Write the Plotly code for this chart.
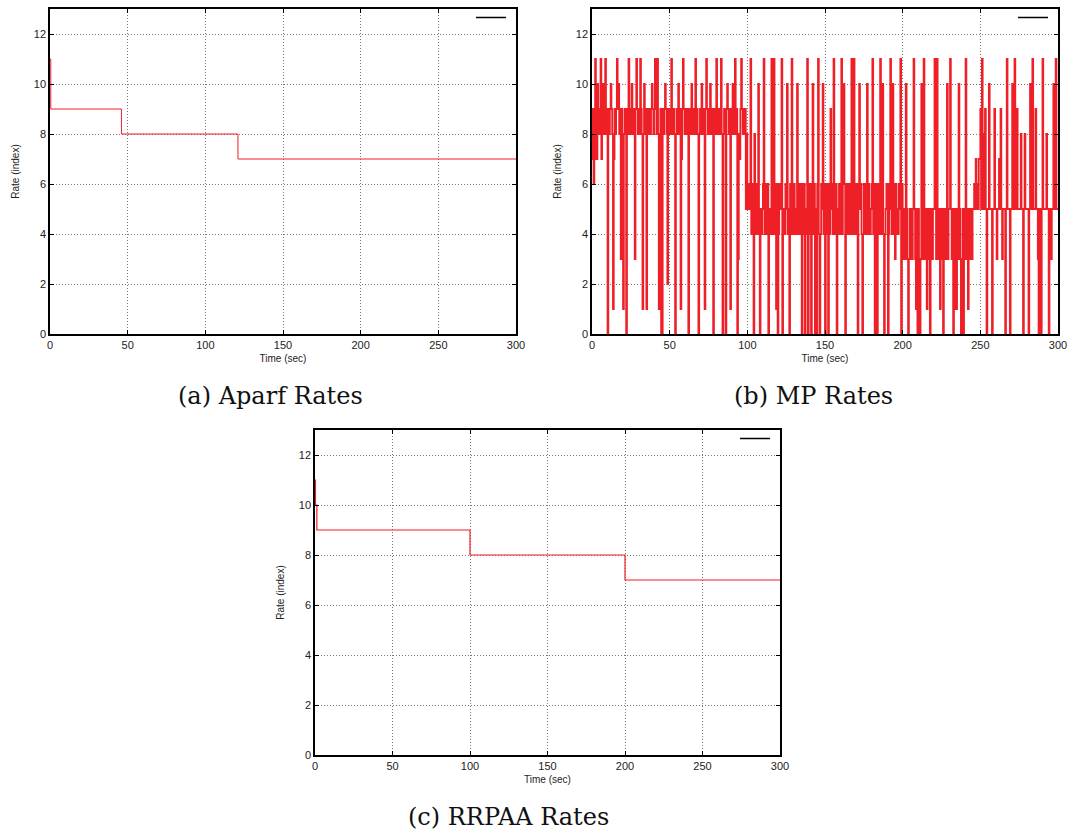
import plotly.graph_objects as go

W, H = 1072, 836

# ---------------- data ----------------
# (a) Aparf: step changes of rate index over time
aparf_t = [0, 0.5, 46, 121, 300]
aparf_rate = [11, 9, 8, 7, 7]

# (c) RRPAA
rrpaa_t = [0, 0.3, 1.2, 100, 200, 300]
rrpaa_rate = [11, 10, 9, 8, 7, 7]

# (b) MP: rate index sampled every 0.5 s, hand-read from the picture
# encoded one char per sample: '0'-'9' and 'a'=10, 'b'=11
MP_STEP = 0.5
mp_0_100 = (
    "7967b97a89" "8b78a98b98" "0989a98179" "89b9a89398" "1898098b89"
    "8a89839b98" "98b9818a89" "1898989a98" "9b98b81890" "0989a98298"
    "98b9898089" "8a89179b98" "98980989a8" "989b898089" "8a89819b98"
    "98a9890898" "b98989b808" "9809a98919" "8a89b89038" "79b9898958"
)
mp_100_200 = (
    "6565b45608" "5464a40545" "6b45646054" "5b46b46160" "4656b04546"
    "5a45064b45" "6454a45646" "0646054b06" "4606a46050" "6b40465a46"
    "0646064956" "4b64605464" "6b46a60646" "5464b64b46" "6406a56404"
    "6546a46545" "6b46056046" "4b45a40456" "6046b54a46" "3645465b06"
)
mp_200_300 = (
    "5353a53035" "3535b53150" "5303a53b53" "5153503535" "5b53b53515"
    "3505353a35" "5b53505151" "53a5303505" "3b35135353" "5565756577"
    "95b5859505" "5a55505595" "5355759535" "5505b55505" "5a55b55955"
    "5585505855" "5505a55b55" "5955305505" "b555585505" "5355a55b55"
)

x_ticks = [0, 50, 100, 150, 200, 250, 300]
y_ticks = [0, 2, 4, 6, 8, 10, 12]

captions = ["(a) Aparf Rates", "(b) MP Rates", "(c) RRPAA Rates"]

# ---------------- build ----------------
mp_codes = mp_0_100 + mp_100_200 + mp_200_300
mp_rate = [int(c, 16) for c in mp_codes] + [int(mp_codes[-1], 16)]
mp_t = [i * MP_STEP for i in range(len(mp_rate))]

RED = "#ee1f26"
fig = go.Figure()

fig.add_trace(go.Scatter(x=aparf_t, y=aparf_rate, mode="lines", line=dict(color=RED, width=1, shape="hv"),
                         xaxis="x", yaxis="y", showlegend=False))
fig.add_trace(go.Scatter(x=mp_t, y=mp_rate, mode="lines", line=dict(color=RED, width=1.8, shape="hv"),
                         xaxis="x2", yaxis="y2", showlegend=False))
fig.add_trace(go.Scatter(x=rrpaa_t, y=rrpaa_rate, mode="lines", line=dict(color=RED, width=1.2, shape="hv"),
                         xaxis="x3", yaxis="y3", showlegend=False))

# legend keys (empty titles, black sample line as in reference)
for ax, lg in [("", "legend"), ("2", "legend2"), ("3", "legend3")]:
    fig.add_trace(go.Scatter(x=[None], y=[None], mode="lines", name=" ",
                             line=dict(color="black", width=1.5),
                             xaxis="x" + ax, yaxis="y" + ax, legend=lg, showlegend=True))

def px_dom(a, b, total):
    return [a / total, b / total]

def ydom(top, bottom):
    return [(H - bottom) / H, (H - top) / H]

panels = [
    ("", px_dom(50, 516, W), ydom(9, 334)),
    ("2", px_dom(592, 1058, W), ydom(9, 334)),
    ("3", px_dom(315, 780, W), ydom(430, 755)),
]

tickfont = dict(family="Liberation Sans, Arial, sans-serif", size=11, color="#222")
titlefont = dict(family="Liberation Sans, Arial, sans-serif", size=10, color="#222")

layout = dict(
    width=W, height=H, margin=dict(l=0, r=0, t=0, b=0, autoexpand=False),
    paper_bgcolor="white", plot_bgcolor="white",
)
for ax, xd, yd in panels:
    n = ax if ax else ""
    layout["xaxis" + n] = dict(
        domain=xd, range=[0, 300], tickvals=x_ticks, anchor="y" + n, automargin=False,
        showline=True, linecolor="black", linewidth=1.5, mirror="allticks",
        ticks="inside", ticklen=4, tickcolor="black",
        showgrid=True, gridcolor="#777", griddash="1px,2px", gridwidth=1,
        zeroline=False, tickfont=tickfont,
        title=dict(text="Time (sec)", font=titlefont, standoff=5),
    )
    layout["yaxis" + n] = dict(
        domain=yd, range=[0, 13], tickvals=y_ticks, anchor="x" + n, automargin=False,
        showline=True, linecolor="black", linewidth=1.5, mirror="allticks",
        ticks="inside", ticklen=4, tickcolor="black",
        showgrid=True, gridcolor="#777", griddash="1px,2px", gridwidth=1,
        zeroline=False, tickfont=tickfont,
        title=dict(text="Rate (index)", font=titlefont, standoff=12),
    )

leg_common = dict(bgcolor="rgba(0,0,0,0)", borderwidth=0, xanchor="right", yanchor="top",
                  font=dict(size=6), itemwidth=30, tracegroupgap=0)
layout["legend"] = dict(x=518 / W, y=(H - 3) / H, **leg_common)
layout["legend2"] = dict(x=1060 / W, y=(H - 3) / H, **leg_common)
layout["legend3"] = dict(x=782 / W, y=(H - 424) / H, **leg_common)

capfont = dict(family="DejaVu Serif, Liberation Serif, serif", size=24, color="#111")
layout["annotations"] = [
    dict(text=captions[0], x=270 / W, y=(H - 396) / H, xref="paper", yref="paper",
         showarrow=False, font=capfont, xanchor="center", yanchor="middle"),
    dict(text=captions[1], x=813 / W, y=(H - 396) / H, xref="paper", yref="paper",
         showarrow=False, font=capfont, xanchor="center", yanchor="middle"),
    dict(text=captions[2], x=508 / W, y=(H - 817) / H, xref="paper", yref="paper",
         showarrow=False, font=capfont, xanchor="center", yanchor="middle"),
]

fig.update_layout(**layout)
fig.write_html("out.html", post_script="document.body.style.margin='0';document.body.style.overflow='hidden';")
